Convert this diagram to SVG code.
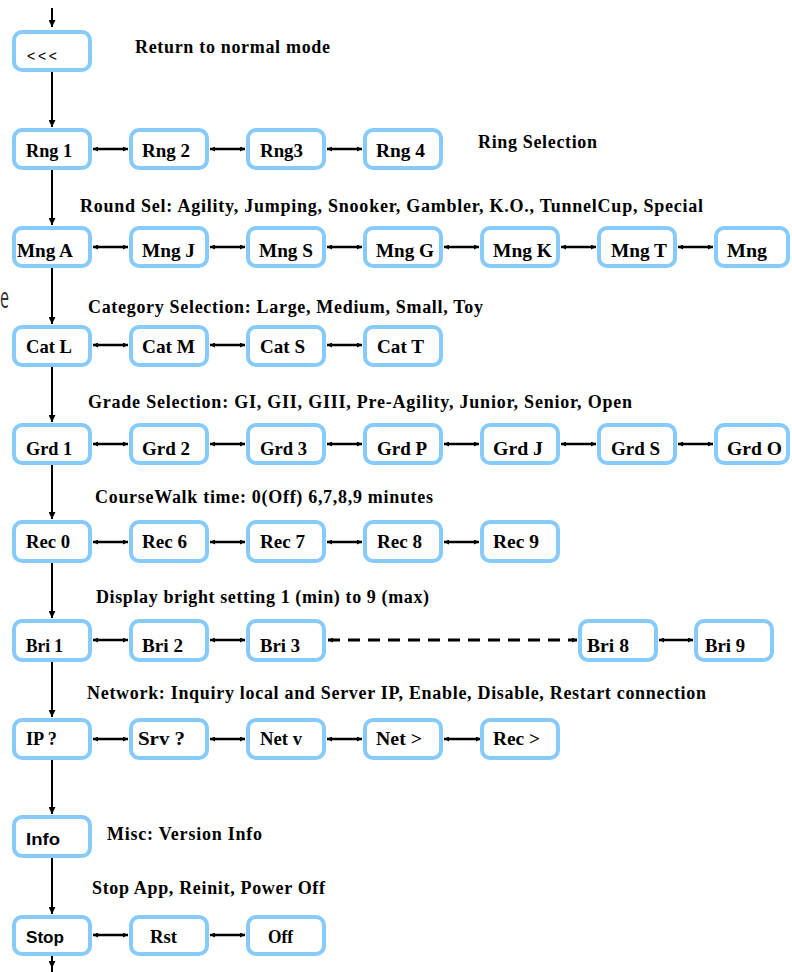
<svg xmlns="http://www.w3.org/2000/svg" width="792" height="972" viewBox="0 0 792 972">
<style>
.box{fill:#fff;stroke:#86cbfb;stroke-width:4}
.lbl{font-family:"Liberation Serif","Times New Roman",serif;font-weight:bold;font-size:19px;fill:#000}
.sans{font-family:"Liberation Sans",Arial,sans-serif;font-weight:bold;font-size:17px;fill:#000}
.desc{font-family:"Liberation Serif","Times New Roman",serif;font-weight:bold;font-size:18px;fill:#000}
.v{stroke:#000;stroke-width:2;fill:none}
.h{stroke:#000;stroke-width:2.5;fill:none}
.d{stroke:#000;stroke-width:3;fill:none;stroke-dasharray:12 8}
</style>
<defs>
<marker id="av" viewBox="0 0 10 10" refX="10" refY="5" markerUnits="userSpaceOnUse" markerWidth="9" markerHeight="7" orient="auto"><path d="M0,0 L10,5 L0,10 z" fill="#000"/></marker>
<marker id="ah" viewBox="0 0 10 10" refX="10" refY="5" markerUnits="userSpaceOnUse" markerWidth="6" markerHeight="5" orient="auto-start-reverse"><path d="M0,0 L10,5 L0,10 z" fill="#000"/></marker>
</defs>

<g id="connectors">
<path class="v" d="M52 8 V27" marker-end="url(#av)"/>
<path class="v" d="M52 72 V127" marker-end="url(#av)"/>
<path class="v" d="M52 170 V225" marker-end="url(#av)"/>
<path class="v" d="M52 268 V324" marker-end="url(#av)"/>
<path class="v" d="M52 366 V422" marker-end="url(#av)"/>
<path class="v" d="M52 465 V519" marker-end="url(#av)"/>
<path class="v" d="M52 563 V618" marker-end="url(#av)"/>
<path class="v" d="M52 662 V717" marker-end="url(#av)"/>
<path class="v" d="M52 760 V814" marker-end="url(#av)"/>
<path class="v" d="M52 858 V914" marker-end="url(#av)"/>
<path class="v" d="M52 956 V968" marker-end="url(#av)"/>
<path class="v" d="M52 966 V972"/>
<path class="h" d="M93 149 H128" marker-start="url(#ah)" marker-end="url(#ah)"/>
<path class="h" d="M210 149 H245" marker-start="url(#ah)" marker-end="url(#ah)"/>
<path class="h" d="M327 149 H362" marker-start="url(#ah)" marker-end="url(#ah)"/>
<path class="h" d="M93 247 H128" marker-start="url(#ah)" marker-end="url(#ah)"/>
<path class="h" d="M210 247 H245" marker-start="url(#ah)" marker-end="url(#ah)"/>
<path class="h" d="M327 247 H362" marker-start="url(#ah)" marker-end="url(#ah)"/>
<path class="h" d="M444 247 H479" marker-start="url(#ah)" marker-end="url(#ah)"/>
<path class="h" d="M561 247 H596" marker-start="url(#ah)" marker-end="url(#ah)"/>
<path class="h" d="M678 247 H713" marker-start="url(#ah)" marker-end="url(#ah)"/>
<path class="h" d="M93 345 H128" marker-start="url(#ah)" marker-end="url(#ah)"/>
<path class="h" d="M210 345 H245" marker-start="url(#ah)" marker-end="url(#ah)"/>
<path class="h" d="M327 345 H362" marker-start="url(#ah)" marker-end="url(#ah)"/>
<path class="h" d="M93 444 H128" marker-start="url(#ah)" marker-end="url(#ah)"/>
<path class="h" d="M210 444 H245" marker-start="url(#ah)" marker-end="url(#ah)"/>
<path class="h" d="M327 444 H362" marker-start="url(#ah)" marker-end="url(#ah)"/>
<path class="h" d="M444 444 H479" marker-start="url(#ah)" marker-end="url(#ah)"/>
<path class="h" d="M561 444 H596" marker-start="url(#ah)" marker-end="url(#ah)"/>
<path class="h" d="M678 444 H713" marker-start="url(#ah)" marker-end="url(#ah)"/>
<path class="h" d="M93 542 H128" marker-start="url(#ah)" marker-end="url(#ah)"/>
<path class="h" d="M210 542 H245" marker-start="url(#ah)" marker-end="url(#ah)"/>
<path class="h" d="M327 542 H362" marker-start="url(#ah)" marker-end="url(#ah)"/>
<path class="h" d="M444 542 H479" marker-start="url(#ah)" marker-end="url(#ah)"/>
<path class="h" d="M93 640 H128" marker-start="url(#ah)" marker-end="url(#ah)"/>
<path class="h" d="M210 640 H245" marker-start="url(#ah)" marker-end="url(#ah)"/>
<path class="d" d="M328 640 H577" marker-start="url(#ah)" marker-end="url(#ah)"/>
<path class="h" d="M659 640 H693" marker-start="url(#ah)" marker-end="url(#ah)"/>
<path class="h" d="M93 739 H128" marker-start="url(#ah)" marker-end="url(#ah)"/>
<path class="h" d="M210 739 H245" marker-start="url(#ah)" marker-end="url(#ah)"/>
<path class="h" d="M327 739 H362" marker-start="url(#ah)" marker-end="url(#ah)"/>
<path class="h" d="M444 739 H481" marker-start="url(#ah)" marker-end="url(#ah)"/>
<path class="h" d="M93 935 H128" marker-start="url(#ah)" marker-end="url(#ah)"/>
<path class="h" d="M210 935 H245" marker-start="url(#ah)" marker-end="url(#ah)"/>
</g>

<g id="n-back"><rect class="box" x="14" y="32" width="76" height="38" rx="8"/><text x="27" y="61" font-family="Liberation Sans, Arial, sans-serif" font-size="14" textLength="30">&lt;&lt;&lt;</text></g>

<g id="n-rng1"><rect class="box" x="14" y="130" width="76" height="38" rx="8"/><text class="lbl" x="26" y="157" textLength="46" lengthAdjust="spacingAndGlyphs">Rng 1</text></g>
<g id="n-rng2"><rect class="box" x="131" y="130" width="76" height="38" rx="8"/><text class="lbl" x="142" y="157" textLength="48" lengthAdjust="spacingAndGlyphs">Rng 2</text></g>
<g id="n-rng3"><rect class="box" x="248" y="130" width="76" height="38" rx="8"/><text class="lbl" x="260" y="157" textLength="43" lengthAdjust="spacingAndGlyphs">Rng3</text></g>
<g id="n-rng4"><rect class="box" x="365" y="130" width="76" height="38" rx="8"/><text class="lbl" x="376" y="157" textLength="49" lengthAdjust="spacingAndGlyphs">Rng 4</text></g>

<g id="n-mnga"><rect class="box" x="14" y="228" width="76" height="38" rx="8"/><text class="lbl" x="17" y="257" textLength="56" lengthAdjust="spacingAndGlyphs">Mng A</text></g>
<g id="n-mngj"><rect class="box" x="131" y="228" width="76" height="38" rx="8"/><text class="lbl" x="142" y="257" textLength="53" lengthAdjust="spacingAndGlyphs">Mng J</text></g>
<g id="n-mngs"><rect class="box" x="248" y="228" width="76" height="38" rx="8"/><text class="lbl" x="259" y="257" textLength="54" lengthAdjust="spacingAndGlyphs">Mng S</text></g>
<g id="n-mngg"><rect class="box" x="365" y="228" width="76" height="38" rx="8"/><text class="lbl" x="376" y="257" textLength="58" lengthAdjust="spacingAndGlyphs">Mng G</text></g>
<g id="n-mngk"><rect class="box" x="482" y="228" width="76" height="38" rx="8"/><text class="lbl" x="493" y="257" textLength="59" lengthAdjust="spacingAndGlyphs">Mng K</text></g>
<g id="n-mngt"><rect class="box" x="599" y="228" width="76" height="38" rx="8"/><text class="lbl" x="611" y="257" textLength="56" lengthAdjust="spacingAndGlyphs">Mng T</text></g>
<g id="n-mng"><rect class="box" x="716" y="228" width="72" height="38" rx="8"/><text class="lbl" x="727" y="257" textLength="40" lengthAdjust="spacingAndGlyphs">Mng</text></g>

<g id="n-catl"><rect class="box" x="14" y="327" width="76" height="38" rx="8"/><text class="lbl" x="26" y="353" textLength="46" lengthAdjust="spacingAndGlyphs">Cat L</text></g>
<g id="n-catm"><rect class="box" x="131" y="327" width="76" height="38" rx="8"/><text class="lbl" x="142" y="353" textLength="53" lengthAdjust="spacingAndGlyphs">Cat M</text></g>
<g id="n-cats"><rect class="box" x="248" y="327" width="76" height="38" rx="8"/><text class="lbl" x="260" y="353" textLength="45" lengthAdjust="spacingAndGlyphs">Cat S</text></g>
<g id="n-catt"><rect class="box" x="365" y="327" width="76" height="38" rx="8"/><text class="lbl" x="377" y="353" textLength="47" lengthAdjust="spacingAndGlyphs">Cat T</text></g>

<g id="n-grd1"><rect class="box" x="14" y="425" width="76" height="38" rx="8"/><text class="lbl" x="26" y="455" textLength="46" lengthAdjust="spacingAndGlyphs">Grd 1</text></g>
<g id="n-grd2"><rect class="box" x="131" y="425" width="76" height="38" rx="8"/><text class="lbl" x="142" y="455" textLength="48" lengthAdjust="spacingAndGlyphs">Grd 2</text></g>
<g id="n-grd3"><rect class="box" x="248" y="425" width="76" height="38" rx="8"/><text class="lbl" x="260" y="455" textLength="47" lengthAdjust="spacingAndGlyphs">Grd 3</text></g>
<g id="n-grdp"><rect class="box" x="365" y="425" width="76" height="38" rx="8"/><text class="lbl" x="377" y="455" textLength="50" lengthAdjust="spacingAndGlyphs">Grd P</text></g>
<g id="n-grdj"><rect class="box" x="482" y="425" width="76" height="38" rx="8"/><text class="lbl" x="493" y="455" textLength="50" lengthAdjust="spacingAndGlyphs">Grd J</text></g>
<g id="n-grds"><rect class="box" x="599" y="425" width="76" height="38" rx="8"/><text class="lbl" x="611" y="455" textLength="49" lengthAdjust="spacingAndGlyphs">Grd S</text></g>
<g id="n-grdo"><rect class="box" x="716" y="425" width="72" height="38" rx="8"/><text class="lbl" x="727" y="455" textLength="55" lengthAdjust="spacingAndGlyphs">Grd O</text></g>

<g id="n-rec0"><rect class="box" x="14" y="522" width="76" height="39" rx="8"/><text class="lbl" x="26" y="548" textLength="44" lengthAdjust="spacingAndGlyphs">Rec 0</text></g>
<g id="n-rec6"><rect class="box" x="131" y="522" width="76" height="39" rx="8"/><text class="lbl" x="142" y="548" textLength="45" lengthAdjust="spacingAndGlyphs">Rec 6</text></g>
<g id="n-rec7"><rect class="box" x="248" y="522" width="76" height="39" rx="8"/><text class="lbl" x="260" y="548" textLength="45" lengthAdjust="spacingAndGlyphs">Rec 7</text></g>
<g id="n-rec8"><rect class="box" x="365" y="522" width="76" height="39" rx="8"/><text class="lbl" x="377" y="548" textLength="45" lengthAdjust="spacingAndGlyphs">Rec 8</text></g>
<g id="n-rec9"><rect class="box" x="482" y="522" width="76" height="39" rx="8"/><text class="lbl" x="493" y="548" textLength="46" lengthAdjust="spacingAndGlyphs">Rec 9</text></g>

<g id="n-bri1"><rect class="box" x="14" y="621" width="76" height="39" rx="8"/><text class="lbl" x="26" y="652" textLength="37" lengthAdjust="spacingAndGlyphs">Bri 1</text></g>
<g id="n-bri2"><rect class="box" x="131" y="621" width="76" height="39" rx="8"/><text class="lbl" x="142" y="652" textLength="41" lengthAdjust="spacingAndGlyphs">Bri 2</text></g>
<g id="n-bri3"><rect class="box" x="248" y="621" width="76" height="39" rx="8"/><text class="lbl" x="260" y="652" textLength="40" lengthAdjust="spacingAndGlyphs">Bri 3</text></g>
<g id="n-bri8"><rect class="box" x="580" y="621" width="76" height="39" rx="8"/><text class="lbl" x="587" y="652" textLength="42" lengthAdjust="spacingAndGlyphs">Bri 8</text></g>
<g id="n-bri9"><rect class="box" x="696" y="621" width="76" height="39" rx="8"/><text class="lbl" x="705" y="652" textLength="40" lengthAdjust="spacingAndGlyphs">Bri 9</text></g>

<g id="n-ip"><rect class="box" x="14" y="720" width="76" height="38" rx="8"/><text class="lbl" x="26" y="745" textLength="31" lengthAdjust="spacingAndGlyphs">IP ?</text></g>
<g id="n-srv"><rect class="box" x="131" y="720" width="76" height="38" rx="8"/><text class="lbl" x="138" y="745" textLength="47" lengthAdjust="spacingAndGlyphs">Srv ?</text></g>
<g id="n-netv"><rect class="box" x="248" y="720" width="76" height="38" rx="8"/><text class="lbl" x="260" y="745" textLength="42" lengthAdjust="spacingAndGlyphs">Net v</text></g>
<g id="n-netgt"><rect class="box" x="365" y="720" width="76" height="38" rx="8"/><text class="lbl" x="376" y="745" textLength="46" lengthAdjust="spacingAndGlyphs">Net &gt;</text></g>
<g id="n-recgt"><rect class="box" x="482" y="720" width="76" height="38" rx="8"/><text class="lbl" x="493" y="745" textLength="47" lengthAdjust="spacingAndGlyphs">Rec &gt;</text></g>

<g id="n-info"><rect class="box" x="14" y="817" width="76" height="39" rx="8"/><text class="sans" x="26" y="845" textLength="34" lengthAdjust="spacingAndGlyphs">Info</text></g>

<g id="n-stop"><rect class="box" x="14" y="917" width="76" height="37" rx="8"/><text class="sans" x="26" y="943" textLength="38" lengthAdjust="spacingAndGlyphs">Stop</text></g>
<g id="n-rst"><rect class="box" x="131" y="917" width="76" height="37" rx="8"/><text class="lbl" x="150" y="943" textLength="27" lengthAdjust="spacingAndGlyphs">Rst</text></g>
<g id="n-off"><rect class="box" x="248" y="917" width="76" height="37" rx="8"/><text class="lbl" x="268" y="943" textLength="25" lengthAdjust="spacingAndGlyphs">Off</text></g>

<g id="descriptions">
<text class="desc" x="135" y="53" textLength="195">Return to normal mode</text>
<text class="desc" x="478" y="148" textLength="119">Ring Selection</text>
<text class="desc" x="80" y="212" textLength="623">Round Sel: Agility, Jumping, Snooker, Gambler, K.O., TunnelCup, Special</text>
<text class="desc" x="88" y="313" textLength="395">Category Selection: Large, Medium, Small, Toy</text>
<text class="desc" x="88" y="408" textLength="544">Grade Selection: GI, GII, GIII, Pre-Agility, Junior, Senior, Open</text>
<text class="desc" x="95" y="503" textLength="338">CourseWalk time: 0(Off) 6,7,8,9 minutes</text>
<text class="desc" x="96" y="603" textLength="333">Display bright setting 1 (min) to 9 (max)</text>
<text class="desc" x="87" y="699" textLength="619">Network: Inquiry local and Server IP, Enable, Disable, Restart connection</text>
<text class="desc" x="107" y="840" textLength="155">Misc: Version Info</text>
<text class="desc" x="92" y="894" textLength="233">Stop App, Reinit, Power Off</text>
<text x="0" y="308" font-family="Open Sans, sans-serif" font-size="29" fill="#333" textLength="9" lengthAdjust="spacingAndGlyphs">e</text>
</g>
</svg>
